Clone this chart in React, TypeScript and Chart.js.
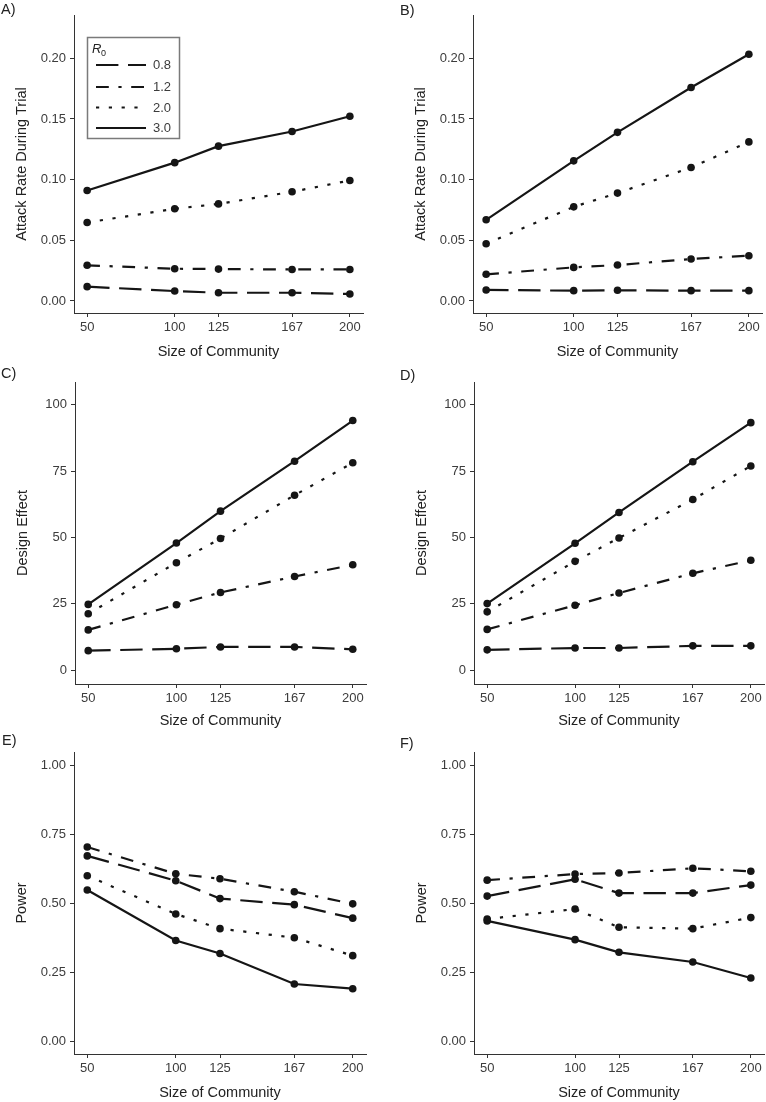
import React, { useEffect, useRef } from "react";
import { Chart, registerables } from "chart.js";

Chart.register(...registerables);

const FONT = "'Liberation Sans', Arial, Helvetica, sans-serif";

// ---- data ----
const communitySizes = [50, 100, 125, 167, 200];
const r0Labels = ["0.8", "1.2", "2.0", "3.0"];

const xTicks = [50, 100, 125, 167, 200];
const attackTicks = [0, 0.05, 0.1, 0.15, 0.2];
const designTicks = [0, 25, 50, 75, 100];
const powerTicks = [0, 0.25, 0.5, 0.75, 1.0];

// Panel A — attack rate
const attackA_R08 = [0.0118, 0.0082, 0.0068, 0.0068, 0.0058];
const attackA_R12 = [0.0294, 0.0266, 0.0263, 0.026, 0.026];
const attackA_R20 = [0.0647, 0.076, 0.08, 0.09, 0.0993];
const attackA_R30 = [0.0911, 0.114, 0.1276, 0.1397, 0.1523];
// Panel B — attack rate
const attackB_R08 = [0.0091, 0.0085, 0.0088, 0.0085, 0.0085];
const attackB_R12 = [0.022, 0.0277, 0.0296, 0.0346, 0.0373];
const attackB_R20 = [0.0472, 0.0776, 0.0889, 0.11, 0.1311];
const attackB_R30 = [0.0669, 0.1155, 0.139, 0.176, 0.2033];
// Panel C — design effect
const designC_R08 = [7.4, 8.1, 8.8, 8.8, 7.9];
const designC_R12 = [15.2, 24.7, 29.3, 35.3, 39.7];
const designC_R20 = [21.3, 40.5, 49.6, 65.9, 78.1];
const designC_R30 = [24.8, 47.9, 59.9, 78.7, 94.0];
// Panel D — design effect
const designD_R08 = [7.7, 8.4, 8.4, 9.2, 9.2];
const designD_R12 = [15.4, 24.5, 29.1, 36.5, 41.4];
const designD_R20 = [22.0, 41.0, 49.8, 64.3, 76.9];
const designD_R30 = [25.1, 47.8, 59.4, 78.5, 93.2];
// Panel E — power
const powerE_R08 = [0.673, 0.583, 0.518, 0.496, 0.447];
const powerE_R12 = [0.705, 0.608, 0.59, 0.543, 0.499];
const powerE_R20 = [0.601, 0.462, 0.409, 0.376, 0.311];
const powerE_R30 = [0.549, 0.366, 0.319, 0.208, 0.191];
// Panel F — power
const powerF_R08 = [0.527, 0.588, 0.538, 0.538, 0.567];
const powerF_R12 = [0.585, 0.607, 0.611, 0.628, 0.617];
const powerF_R20 = [0.444, 0.48, 0.414, 0.409, 0.449];
const powerF_R30 = [0.437, 0.369, 0.323, 0.288, 0.23];

// ---- styles ----
const LINE_COLOR = "#151515";
const AXIS_COLOR = "#333333";
const TICK_TEXT = "#3c3c3c";
const TITLE_TEXT = "#222222";
const dashes: number[][] = [
  [22.4, 9.6], // 0.8 long dash
  [12.8, 9.6, 3.2, 9.6], // 1.2 dot-dash
  [3.2, 9.6], // 2.0 dotted
  [], // 3.0 solid
];

type PanelCfg = {
  label: string;
  labelX: number;
  labelY: number;
  series: number[][];
  yTitle: string;
  yTicks: number[];
  yMin: number;
  yMax: number;
  decimals: number;
  axisLeft: number;
  top: number;
  right: number;
  bottom: number;
  rowTop: number;
  titleY: number;
  legend?: boolean;
};

const Y_AXIS_W = 74;
const PAD_RIGHT = 20;

const panels: PanelCfg[] = [
  {
    label: "A)", labelX: 1, labelY: 9,
    series: [attackA_R08, attackA_R12, attackA_R20, attackA_R30],
    yTitle: "Attack Rate During Trial", yTicks: attackTicks, yMin: -0.0099, yMax: 0.2357, decimals: 2,
    axisLeft: 74, top: 15, right: 363, bottom: 313, rowTop: 0, titleY: 352, legend: true,
  },
  {
    label: "B)", labelX: 400, labelY: 10,
    series: [attackB_R08, attackB_R12, attackB_R20, attackB_R30],
    yTitle: "Attack Rate During Trial", yTicks: attackTicks, yMin: -0.0099, yMax: 0.2357, decimals: 2,
    axisLeft: 473, top: 15, right: 762, bottom: 313, rowTop: 0, titleY: 352,
  },
  {
    label: "C)", labelX: 1, labelY: 373,
    series: [designC_R08, designC_R12, designC_R20, designC_R30],
    yTitle: "Design Effect", yTicks: designTicks, yMin: -5.15, yMax: 108.5, decimals: 0,
    axisLeft: 75, top: 382, right: 366, bottom: 684, rowTop: 362, titleY: 721,
  },
  {
    label: "D)", labelX: 400, labelY: 375,
    series: [designD_R08, designD_R12, designD_R20, designD_R30],
    yTitle: "Design Effect", yTicks: designTicks, yMin: -5.15, yMax: 108.5, decimals: 0,
    axisLeft: 474, top: 382, right: 764, bottom: 684, rowTop: 362, titleY: 721,
  },
  {
    label: "E)", labelX: 2, labelY: 740,
    series: [powerE_R08, powerE_R12, powerE_R20, powerE_R30],
    yTitle: "Power", yTicks: powerTicks, yMin: -0.046, yMax: 1.05, decimals: 2,
    axisLeft: 74, top: 752, right: 366, bottom: 1054, rowTop: 722, titleY: 1093,
  },
  {
    label: "F)", labelX: 400, labelY: 743,
    series: [powerF_R08, powerF_R12, powerF_R20, powerF_R30],
    yTitle: "Power", yTicks: powerTicks, yMin: -0.046, yMax: 1.05, decimals: 2,
    axisLeft: 474, top: 752, right: 764, bottom: 1054, rowTop: 722, titleY: 1093,
  },
];

const legendPlugin = {
  id: "r0Legend",
  afterDraw(chart: any) {
    const ctx = chart.ctx as CanvasRenderingContext2D;
    ctx.save();
    // box
    ctx.strokeStyle = "#7a7a7a";
    ctx.lineWidth = 1.5;
    ctx.strokeRect(87.5, 37.5, 92, 101);
    // title R0
    ctx.fillStyle = TITLE_TEXT;
    ctx.textBaseline = "alphabetic";
    ctx.textAlign = "left";
    ctx.font = `italic 13px ${FONT}`;
    ctx.fillText("R", 92, 52.5);
    ctx.font = `9px ${FONT}`;
    ctx.fillText("0", 101, 55.5);
    const rows = [65, 87, 107.5, 128];
    r0Labels.forEach((lab, i) => {
      const y = rows[i];
      ctx.beginPath();
      ctx.setLineDash(dashes[i]);
      ctx.lineDashOffset = 0;
      ctx.lineCap = "butt";
      ctx.strokeStyle = LINE_COLOR;
      ctx.lineWidth = 2.2;
      ctx.moveTo(96, y);
      ctx.lineTo(146, y);
      ctx.stroke();
      ctx.setLineDash([]);
      ctx.font = `13px ${FONT}`;
      ctx.fillStyle = TICK_TEXT;
      ctx.textBaseline = "middle";
      ctx.fillText(lab, 153, y + 0.5);
    });
    ctx.restore();
  },
};

function Panel({ cfg }: { cfg: PanelCfg }) {
  const ref = useRef<HTMLCanvasElement | null>(null);
  const left = cfg.axisLeft - Y_AXIS_W;
  const width = cfg.right + PAD_RIGHT - left;
  const canvasBottom = Math.round(cfg.titleY + 8.7);
  const height = canvasBottom - cfg.rowTop;
  const xAxisH = canvasBottom - cfg.bottom;

  useEffect(() => {
    if (!ref.current) return;
    const datasets = cfg.series.map((vals, i) => ({
      label: r0Labels[i],
      data: vals.map((v, j) => ({ x: communitySizes[j], y: v })),
      borderColor: LINE_COLOR,
      backgroundColor: LINE_COLOR,
      borderWidth: 2.2,
      borderDash: dashes[i],
      borderCapStyle: "butt" as const,
      pointRadius: 3.8,
      pointBackgroundColor: LINE_COLOR,
      pointBorderWidth: 0,
      tension: 0,
      fill: false,
    }));
    const chart = new Chart(ref.current, {
      type: "line",
      data: { datasets },
      plugins: cfg.legend ? [legendPlugin] : [],
      options: {
        animation: false,
        responsive: false,
        maintainAspectRatio: false,
        devicePixelRatio: 1,
        layout: { padding: { top: cfg.top - cfg.rowTop, right: PAD_RIGHT, bottom: 0, left: 0 } },
        plugins: { legend: { display: false }, tooltip: { enabled: false }, title: { display: false } },
        events: [],
        scales: {
          x: {
            type: "linear",
            min: 42.5,
            max: 207.5,
            afterBuildTicks: (s: any) => {
              s.ticks = xTicks.map((v) => ({ value: v }));
            },
            afterFit: (s: any) => {
              s.height = xAxisH;
            },
            ticks: {
              color: TICK_TEXT,
              font: { family: FONT, size: 13 },
              padding: 3,
              maxRotation: 0,
              autoSkip: false,
              callback: (v: any) => String(v),
            },
            grid: { display: true, drawOnChartArea: false, drawTicks: true, tickLength: 4, color: AXIS_COLOR, lineWidth: 1 },
            border: { display: true, color: AXIS_COLOR, width: 1 },
            title: {
              display: true,
              text: "Size of Community",
              color: TITLE_TEXT,
              font: { family: FONT, size: 14.5 },
              padding: { top: 0, bottom: 0 },
            },
          },
          y: {
            type: "linear",
            min: cfg.yMin,
            max: cfg.yMax,
            afterBuildTicks: (s: any) => {
              s.ticks = cfg.yTicks.map((v) => ({ value: v }));
            },
            afterFit: (s: any) => {
              s.width = Y_AXIS_W;
            },
            ticks: {
              color: TICK_TEXT,
              font: { family: FONT, size: 13 },
              padding: 4,
              autoSkip: false,
              callback: (v: any) => Number(v).toFixed(cfg.decimals),
            },
            grid: { display: true, drawOnChartArea: false, drawTicks: true, tickLength: 4, color: AXIS_COLOR, lineWidth: 1 },
            border: { display: true, color: AXIS_COLOR, width: 1 },
            title: {
              display: true,
              text: cfg.yTitle,
              color: TITLE_TEXT,
              font: { family: FONT, size: 14.5 },
              padding: { top: 13.5, bottom: 0 },
            },
          },
        },
      } as any,
    });
    return () => chart.destroy();
  }, []);

  return (
    <>
      <canvas
        ref={ref}
        width={width}
        height={height}
        style={{ position: "absolute", left, top: cfg.rowTop, width, height, display: "block" }}
      />
      <div
        style={{
          position: "absolute",
          left: cfg.labelX,
          top: cfg.labelY - 8,
          height: 16,
          lineHeight: "16px",
          fontFamily: FONT,
          fontSize: 14.5,
          color: TITLE_TEXT,
          whiteSpace: "nowrap",
        }}
      >
        {cfg.label}
      </div>
    </>
  );
}

export default function App() {
  return (
    <div
      style={{
        position: "absolute",
        left: 0,
        top: 0,
        width: 766,
        height: 1102,
        background: "#ffffff",
        overflow: "hidden",
      }}
    >
      {panels.map((p) => (
        <Panel key={p.label} cfg={p} />
      ))}
    </div>
  );
}
